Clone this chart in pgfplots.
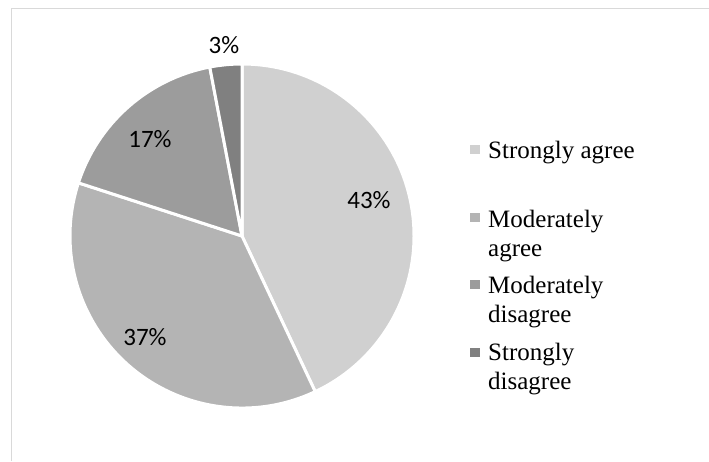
\documentclass[border=0pt]{standalone}
\usepackage{fontspec}
\setmainfont{Liberation Serif}
\newfontfamily\labelfont{Carlito}
\usepackage{pgfplots}
\usepackage{pgfplotstable}
\pgfplotsset{compat=1.18}

\definecolor{slice0}{RGB}{208,208,208}
\definecolor{slice1}{RGB}{180,180,180}
\definecolor{slice2}{RGB}{156,156,156}
\definecolor{slice3}{RGB}{128,128,128}
\definecolor{framegray}{RGB}{217,217,217}

% share (%), label centre x, label baseline y (pixels from top)
\pgfplotstableread{
value lx  ly
43    369 208
37    145 345
17    150 147
3     224 53
}\piedata

\begin{document}
\begin{tikzpicture}
\begin{axis}[
    name=ax,
    x=1pt, y=1pt,
    xmin=0, xmax=709, ymin=0, ymax=461,
    y dir=reverse,
    hide axis, clip=false,
    enlargelimits=false,
  ]
  % frame (top and left edges only are visible)
  \draw[framegray, line width=1.5pt] (axis cs:11.5,461) -- (axis cs:11.5,8.5) -- (axis cs:709,8.5);

  % pie slices, clockwise from 12 o'clock
  \def\angstart{90}
  \pgfplotsforeachungrouped \i in {0,...,3}{
    \pgfplotstablegetelem{\i}{value}\of\piedata \let\v\pgfplotsretval
    \pgfmathsetmacro\angend{\angstart-3.6*\v}
    \edef\cmd{\noexpand\fill[slice\i, draw=white, line width=3pt, line join=round]
      (axis cs:242,236) -- ++(\angstart:172pt)
      arc[start angle=\angstart, end angle=\angend, radius=172pt] -- cycle;}
    \cmd
    \let\angstart\angend
  }
  % percentage labels
  \pgfplotsforeachungrouped \i in {0,...,3}{
    \pgfplotstablegetelem{\i}{value}\of\piedata \let\v\pgfplotsretval
    \pgfplotstablegetelem{\i}{lx}\of\piedata \let\lx\pgfplotsretval
    \pgfplotstablegetelem{\i}{ly}\of\piedata \let\ly\pgfplotsretval
    \edef\cmd{\noexpand\node[anchor=base, inner sep=0pt,
      font=\noexpand\labelfont\noexpand\fontsize{25}{29}\noexpand\selectfont]
      at (axis cs:\lx,\ly) {\v\noexpand\%};}
    \cmd
  }

  % legend (multi-line nodes are placed by the baseline of their last line)
  \fill[slice0] (axis cs:470,144.5) rectangle (axis cs:479.5,154);
  \fill[slice1] (axis cs:470,212.5) rectangle (axis cs:479.5,222);
  \fill[slice2] (axis cs:470,279.5) rectangle (axis cs:479.5,289);
  \fill[slice3] (axis cs:470,347.5) rectangle (axis cs:479.5,357);
  \begin{scope}[every node/.style={anchor=base west, inner sep=0pt, align=left,
      font=\fontsize{25}{29}\selectfont}]
    \node at (axis cs:488,158) {Strongly agree};
    \node at (axis cs:488,256) {Moderately\\agree};
    \node at (axis cs:488,322) {Moderately\\disagree};
    \node at (axis cs:488,389) {Strongly\\disagree};
  \end{scope}
\end{axis}
\pgfresetboundingbox
\path (ax.south west) rectangle (ax.north east);
\end{tikzpicture}
\end{document}
